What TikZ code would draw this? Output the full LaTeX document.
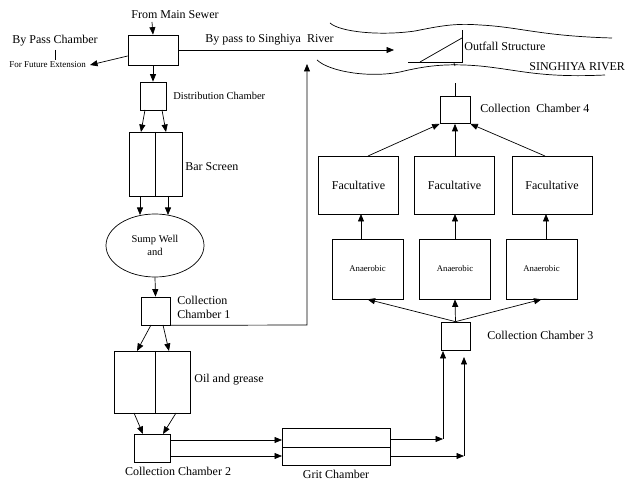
\documentclass[tikz,border=0pt]{standalone}
\usepackage{fontspec}
\setmainfont{Liberation Serif}
\usetikzlibrary{arrows.meta,shapes.geometric}
\begin{document}
\begin{tikzpicture}[x=1pt,y=-1pt,
  line width=0.7pt,
  lbl/.style={inner sep=0pt,font=\fontsize{12}{14}\selectfont},
  sml/.style={inner sep=0pt,font=\fontsize{9}{10}\selectfont},
  arr/.style={-{Triangle[length=7.5pt,width=6pt]}},
  every node/.style={inner sep=0pt}]
\useasboundingbox (0,0) rectangle (625,481);
% nodes
\node[draw,minimum width=50pt,minimum height=30pt] (top) at (153,50) {};
\node[lbl] (frm) at (175,15) {From Main Sewer};
\coordinate (frmend) at (152,22);
\node[lbl,anchor=west] (bpc) at (12,41) {By Pass Chamber};
\node[sml,anchor=west] (ffe) at (9,65) {For Future Extension};
\coordinate (ffeend) at (90,65);
\node[lbl,anchor=west] (bpr) at (205,40) {By pass to Singhiya\ \ River};
\coordinate (bprend) at (394,50);
\node[draw,minimum width=26pt,minimum height=28pt] (dist) at (153,96) {};
\node[anchor=west,font=\fontsize{10.5}{12}\selectfont] (distl) at (173,96) {Distribution Chamber};
\node[draw,minimum width=53pt,minimum height=64pt] (bar) at (155.5,164) {};
\draw (155,132) -- (155,196);
\node[lbl,anchor=west] (barl) at (185,167) {Bar Screen};
\node[draw,ellipse,minimum width=98pt,minimum height=63pt,align=center,font=\fontsize{10.5}{12.5}\selectfont] (sump) at (155,245.5) {Sump Well\\and};
\node[draw,minimum width=29pt,minimum height=28pt] (cc1) at (155.5,311) {};
\node[lbl,anchor=west,align=left] (cc1l) at (177,307) {Collection\\Chamber 1};
\coordinate (cc1c) at (307,325);
\coordinate (cc1end) at (307,64);
\node[draw,minimum width=76pt,minimum height=62pt] (oil) at (152,382) {};
\draw (155,351) -- (155,413);
\node[lbl,anchor=west] (oill) at (194,380) {Oil and grease};
\node[draw,minimum width=36pt,minimum height=28pt] (cc2) at (152,448) {};
\node[lbl] (cc2l) at (178,471.5) {Collection Chamber 2};
\node[draw,minimum width=108pt,minimum height=37pt] (grit) at (336,446.5) {};
\draw (282,447) -- (390,447);
\node[lbl] (gritl) at (336,474) {Grit Chamber};
\coordinate (g1) at (443,439);
\coordinate (g2) at (464,456);
\node[draw,minimum width=29pt,minimum height=28pt] (cc3) at (455.5,336) {};
\node[lbl,anchor=west] (cc3l) at (487,335) {Collection Chamber 3};
\foreach \i/\x in {1/367.5,2/455,3/541.5}{
  \node[draw,minimum width=71pt,minimum height=60pt,font=\fontsize{8.7}{10}\selectfont] (an\i) at (\x,269) {Anaerobic};
}
\foreach \i/\x in {1/358.5,2/454.5,3/552}{
  \node[draw,minimum width=80pt,minimum height=58pt,font=\fontsize{12}{14}\selectfont] (fa\i) at (\x,185) {Facultative};
}
\node[draw,minimum width=30pt,minimum height=27pt] (cc4) at (455,110) {};
\node[lbl,anchor=west] (cc4l) at (480,108) {Collection\ \ Chamber 4};
\coordinate (cc4end) at (455,83);
% outfall
\coordinate (ofL) at (408,62);
\coordinate (ofR) at (462,62);
\coordinate (ofT) at (462,30);
\draw (ofL) -- (ofR) -- (ofT);
\draw (420,62) -- (462,38);
\draw (454,63) -- (455,66);
\node[lbl,anchor=west] (ofl) at (464,46) {Outfall Structure};
\node[lbl,anchor=west] (sr) at (529,67) {SINGHIYA RIVER};
% river banks
\draw (330,23) .. controls (340,32) and (380,36) .. (415,31)
  .. controls (440,26) and (455,23) .. (480,25)
  .. controls (520,27) and (540,36) .. (612,38);
\draw (317,60) .. controls (330,72) and (370,78) .. (400,72)
  .. controls (425,66) and (445,63) .. (480,66)
  .. controls (520,70) and (540,78) .. (605,75);
% connectors
\draw[arr] (frmend) -- (top.north);
\draw[arr] (top.west |- 0,56) -- (ffeend);
\draw (55,50) -- (55,60);
\draw[arr] (top.east) -- (bprend);
\draw[arr] (top.south) -- (dist.north);
\draw[arr] (145,110) -- (141,132);
\draw[arr] (162,110) -- (166,132);
\draw[arr] (140,196) -- (140,215);
\draw[arr] (168,196) -- (168,215);
\draw[arr] (sump.south) -- (cc1.north);
\draw[arr] (cc1.south east) -- (cc1c) -- (cc1end);
\draw[arr] (151,325) -- (137,351);
\draw[arr] (163,325) -- (169,351);
\draw[arr] (134,413) -- (143,434);
\draw[arr] (176,413) -- (163,434);
\draw[arr] (170,440) -- (282,440);
\draw[arr] (170,456) -- (282,456);
\draw[arr] (390,439) -- (g1);
\draw[arr] (g1) -- (443,351);
\draw[arr] (390,456) -- (g2);
\draw[arr] (g2) -- (464,357);
\draw[arr] (cc3.north) -- (an1.south);
\draw[arr] (cc3.north) -- (an2.south);
\draw[arr] (cc3.north) -- (an3.south);
\draw[arr] (361,239) -- (361,214);
\draw[arr] (455,239) -- (455,214);
\draw[arr] (546,239) -- (546,214);
\draw[arr] (368,156) -- (cc4.south west);
\draw[arr] (455,156) -- (cc4.south);
\draw[arr] (545,156) -- (cc4.south east);
\draw (cc4.north) -- (cc4end);
\end{tikzpicture}
\end{document}
